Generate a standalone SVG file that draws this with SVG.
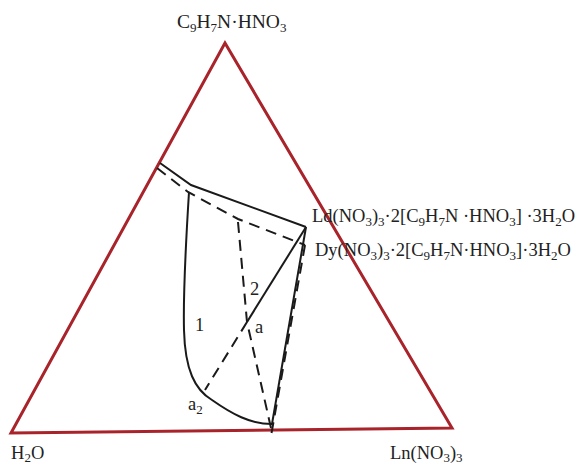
<svg xmlns="http://www.w3.org/2000/svg" width="582" height="465" viewBox="0 0 582 465">
<style>
text{font-family:"Liberation Serif","Times New Roman",serif;font-size:18.5px;fill:#222}
.s{font-size:13px}
.tri{fill:none;stroke:#a8232a;stroke-width:3;stroke-linejoin:miter}
.sol{fill:none;stroke:#1a1a1a;stroke-width:2}
.dash{fill:none;stroke:#1a1a1a;stroke-width:2;stroke-dasharray:11,7}
</style>
<rect width="582" height="465" fill="#fff"/>
<g id="triangle">
<path class="tri" d="M225,43 L11,433 L452,428 Z"/>
</g>
<g id="connectors">
<polyline class="sol" points="160,163 191,185 306,227"/>
<polyline class="dash" points="157,168 188,192 238,219 305,245"/>
<path class="sol" d="M189,192 C186,240 183,290 184,330 C185,370 195,390 212,400 C232,414 250,424 272,424"/>
<line class="sol" x1="306" y1="227" x2="272" y2="424"/>
<line class="dash" x1="305" y1="245" x2="271" y2="436"/>
<line class="sol" x1="306" y1="227" x2="247" y2="322"/>
<line class="dash" x1="247" y1="322" x2="205" y2="390"/>
<polyline class="dash" points="238,222 247,322 271,428"/>
</g>
<g id="node-top">
<text x="177" y="28" style="font-size:19.5px">C<tspan class="s" dy="4">9</tspan><tspan dy="-4">H</tspan><tspan class="s" dy="4">7</tspan><tspan dy="-4">N·HNO</tspan><tspan class="s" dy="4">3</tspan></text>
</g>
<g id="node-h2o">
<text x="11" y="459">H<tspan class="s" dy="3">2</tspan><tspan dy="-3">O</tspan></text>
</g>
<g id="node-ln">
<text x="390" y="459">Ln(NO<tspan class="s" dy="3">3</tspan><tspan dy="-3">)</tspan><tspan class="s" dy="3">3</tspan></text>
</g>
<g id="node-ld">
<text x="312" y="222">Ld(NO<tspan class="s" dy="4">3</tspan><tspan dy="-4">)</tspan><tspan class="s" dy="4">3</tspan><tspan dy="-4">·2[C</tspan><tspan class="s" dy="4">9</tspan><tspan dy="-4">H</tspan><tspan class="s" dy="4">7</tspan><tspan dy="-4">N ·HNO</tspan><tspan class="s" dy="4">3</tspan><tspan dy="-4">] ·3H</tspan><tspan class="s" dy="4">2</tspan><tspan dy="-4">O</tspan></text>
</g>
<g id="node-dy">
<text x="315" y="256">Dy(NO<tspan class="s" dy="4">3</tspan><tspan dy="-4">)</tspan><tspan class="s" dy="4">3</tspan><tspan dy="-4">·2[C</tspan><tspan class="s" dy="4">9</tspan><tspan dy="-4">H</tspan><tspan class="s" dy="4">7</tspan><tspan dy="-4">N·HNO</tspan><tspan class="s" dy="4">3</tspan><tspan dy="-4">]·3H</tspan><tspan class="s" dy="4">2</tspan><tspan dy="-4">O</tspan></text>
</g>
<g id="labels">
<text x="195" y="331">1</text>
<text x="250" y="295">2</text>
<text x="255" y="333">a</text>
<text x="188" y="410">a<tspan class="s" dy="4">2</tspan></text>
</g>
</svg>
